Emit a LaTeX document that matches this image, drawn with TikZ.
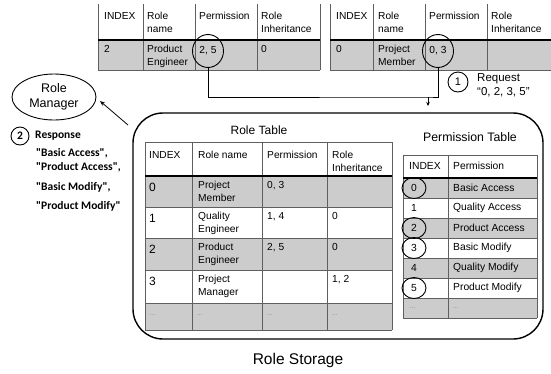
\documentclass[tikz,border=0pt]{standalone}
\usepackage{fontspec}
\setmainfont{Liberation Sans}
\newfontfamily\respfont{Carlito}
\usetikzlibrary{arrows.meta,shapes.geometric}
\definecolor{cellgray}{RGB}{204,204,204}
\definecolor{linegray}{RGB}{95,95,95}
\definecolor{dotgray}{RGB}{120,120,120}
\begin{document}
\begin{tikzpicture}[x=1pt,y=-1pt,
  txt/.style={anchor=north west, align=left, inner sep=0pt, font=\fontsize{10.2}{13}\selectfont},
  bigtxt/.style={anchor=north west, inner sep=0pt, font=\fontsize{12}{13}\selectfont},
  rowtxt/.style={anchor=west, inner sep=0pt, font=\fontsize{10.3}{12}\selectfont},
  dots/.style={anchor=west, inner sep=0pt, text=dotgray, font=\fontsize{6}{7}\selectfont},
  gridline/.style={draw=linegray, line width=0.7pt},
  headrule/.style={draw=black, line width=1.3pt},
  ring/.style={draw=black, line width=0.9pt, ellipse, inner sep=0pt},
  disc/.style={draw=black, line width=0.9pt, circle, inner sep=0pt},
  resptxt/.style={anchor=west, inner sep=0pt, font=\respfont\bfseries\fontsize{11.5}{13}\selectfont},
  arr/.style={-{Stealth[length=5pt,width=4pt]}, line width=0.8pt},
]
\useasboundingbox (0,0) rectangle (551,373);

% ---------- top-left table ----------
\fill[cellgray] (98,40) rectangle (320,70);
\foreach \x in {98,143,195,257,320} \draw[gridline] (\x,4) -- (\x,70);
\draw[headrule] (98,40) -- (320,40);
\draw[gridline] (98,70) -- (320,70);
\node[txt] (tlh1) at (104,12) {INDEX};
\node[txt] (tlh2) at (147,12) {Role\\name};
\node[txt] (tlh3) at (199,12) {Permission};
\node[txt] (tlh4) at (261,12) {Role\\Inheritance};
\node[txt] (tlr1) at (104,45) {2};
\node[txt] (tlr2) at (147,45) {Product\\Engineer};
\node[txt] (tlr4) at (261,45) {0};
\node[ring, minimum width=31, minimum height=33, font=\fontsize{10.2}{12}\selectfont] (c25) at (208,51) {2, 5};

% ---------- top-right table ----------
\fill[cellgray] (330,40) rectangle (551,70);
\foreach \x in {330,373,425,487,551} \draw[gridline] (\x,4) -- (\x,70);
\draw[headrule] (330,40) -- (551,40);
\draw[gridline] (330,70) -- (551,70);
\node[txt] (trh1) at (336,12) {INDEX};
\node[txt] (trh2) at (378,12) {Role\\name};
\node[txt] (trh3) at (429,12) {Permission};
\node[txt] (trh4) at (491,12) {Role\\Inheritance};
\node[txt] (trr1) at (336,45) {0};
\node[txt] (trr2) at (378,45) {Project\\Member};
\node[ring, minimum width=31, minimum height=33, font=\fontsize{10.2}{12}\selectfont] (c03) at (438,51) {0, 3};

% ---------- request connector ----------
\coordinate (bus) at (428,97);
\coordinate (reqtip) at (428,106);
\draw[line width=0.8pt] (c25.south) |- (bus) -| (c03.south);
\draw[arr, -{Stealth[length=4pt,width=3.5pt]}] (bus) -- (reqtip);
\node[disc, minimum size=20pt, font=\fontsize{11}{12}\selectfont] (step1) at (458,82) {1};
\node[anchor=north west, align=left, inner sep=0pt, font=\fontsize{11.5}{14}\selectfont] (reqtxt) at (477,73) {Request\\“0, 2, 3, 5”};

% ---------- Role Manager ----------
\node[draw, ellipse, line width=0.9pt, minimum width=84pt, minimum height=46pt, align=center, inner sep=0pt, font=\fontsize{12.5}{15}\selectfont] (rm) at (54,97) {Role\\Manager};
\coordinate (rmfrom) at (128,125);
\coordinate (rmto) at (100,101);
\draw[arr] (rmfrom) -- (rmto);

\node[disc, minimum size=18pt, font=\respfont\bfseries\fontsize{11.5}{12}\selectfont] (step2) at (20,136) {2};
\node[resptxt] (resp) at (35,136) {Response};
\node[resptxt] (q1) at (36,153) {"Basic Access",};
\node[resptxt] (q2) at (36,167) {"Product Access",};
\node[resptxt] (q3) at (36,187) {"Basic Modify",};
\node[resptxt] (q4) at (36,206) {"Product Modify"};

% ---------- Role Storage ----------
\node[draw, line width=1.4pt, rounded corners=30pt, minimum width=410pt, minimum height=226pt, inner sep=0pt] (storage) at (338,226) {};
\node[font=\fontsize{15.5}{18}\selectfont, inner sep=0pt] (storlabel) at (298,360) {Role Storage};

% ---------- Role Table ----------
\node[font=\fontsize{12}{14}\selectfont, inner sep=0pt] (rttitle) at (259,130) {Role Table};
\fill[cellgray] (145,176) rectangle (392,207);
\fill[cellgray] (145,238) rectangle (392,270);
\fill[cellgray] (145,303) rectangle (392,330);
\foreach \x in {145,192,262,327,392} \draw[gridline] (\x,142) -- (\x,330);
\foreach \y in {142,207,238,270,303,330} \draw[gridline] (145,\y) -- (392,\y);
\draw[headrule] (145,176) -- (392,176);
\node[txt] (rth1) at (149,151) {INDEX};
\node[txt] (rth2) at (198,151) {Role name};
\node[txt] (rth3) at (267,151) {Permission};
\node[txt] (rth4) at (332,151) {Role\\Inheritance};
% row 0
\node[bigtxt] (r0a) at (149,183) {0};
\node[txt] (r0b) at (198,181) {Project\\Member};
\node[txt] (r0c) at (267,181) {0, 3};
% row 1
\node[bigtxt] (r1a) at (149,214) {1};
\node[txt] (r1b) at (198,212) {Quality\\Engineer};
\node[txt] (r1c) at (267,212) {1, 4};
\node[txt] (r1d) at (332,212) {0};
% row 2
\node[bigtxt] (r2a) at (149,245) {2};
\node[txt] (r2b) at (198,243) {Product\\Engineer};
\node[txt] (r2c) at (267,243) {2, 5};
\node[txt] (r2d) at (332,243) {0};
% row 3
\node[bigtxt] (r3a) at (149,277) {3};
\node[txt] (r3b) at (198,275) {Project\\Manager};
\node[txt] (r3d) at (332,275) {1, 2};
% row dots
\node[dots] (r4a) at (150,315) {...};
\node[dots] (r4b) at (197,315) {...};
\node[dots] (r4c) at (267,315) {...};
\node[dots] (r4d) at (332,315) {...};

% ---------- Permission Table ----------
\node[font=\fontsize{12.3}{14}\selectfont, inner sep=0pt] (pttitle) at (470,137) {Permission Table};
\fill[cellgray] (403,178) rectangle (537,198);
\fill[cellgray] (403,218) rectangle (537,238);
\fill[cellgray] (403,258) rectangle (537,278);
\fill[cellgray] (403,298) rectangle (537,318);
\foreach \x in {403,448,537} \draw[gridline] (\x,155) -- (\x,318);
\foreach \y in {155,198,218,238,258,278,298,318} \draw[gridline] (403,\y) -- (537,\y);
\draw[headrule] (403,178) -- (537,178);
\node[rowtxt] (pth1) at (409,166) {INDEX};
\node[rowtxt] (pth2) at (453,166) {Permission};
\node[ring, minimum width=24pt, minimum height=21pt, font=\fontsize{10.3}{12}\selectfont] (p0) at (414,188) {0};
\node[rowtxt] (p1) at (411,208) {1};
\node[ring, minimum width=24pt, minimum height=21pt, font=\fontsize{10.3}{12}\selectfont] (p2) at (414,228) {2};
\node[ring, minimum width=24pt, minimum height=21pt, font=\fontsize{10.3}{12}\selectfont] (p3) at (414,248) {3};
\node[rowtxt] (p4) at (411,268) {4};
\node[ring, minimum width=24pt, minimum height=21pt, font=\fontsize{10.3}{12}\selectfont] (p5) at (414,288) {5};
\node[dots] (p6) at (410,308) {...};
\node[rowtxt] (pn0) at (453,188) {Basic Access};
\node[rowtxt] (pn1) at (453,208) {Quality Access};
\node[rowtxt] (pn2) at (453,228) {Product Access};
\node[rowtxt] (pn3) at (453,248) {Basic Modify};
\node[rowtxt] (pn4) at (453,268) {Quality Modify};
\node[rowtxt] (pn5) at (453,288) {Product Modify};
\node[dots] (pn6) at (453,308) {...};
\end{tikzpicture}
\end{document}
